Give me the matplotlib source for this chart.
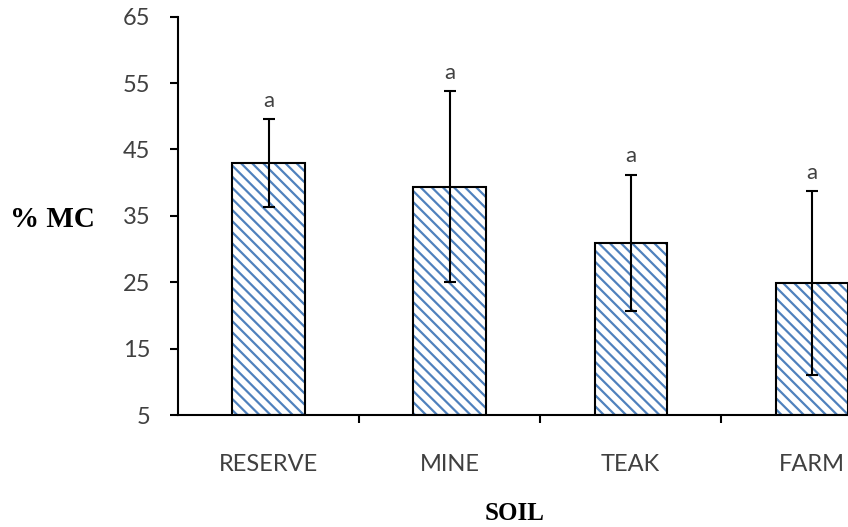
import numpy as np
import matplotlib
matplotlib.use('Agg')
import matplotlib.pyplot as plt

# data
soils = ['RESERVE', 'MINE', 'TEAK', 'FARM']
mc_mean = [43.0, 39.4, 30.9, 24.9]
mc_err = [6.6, 14.4, 10.3, 13.8]
letters = ['a', 'a', 'a', 'a']

plt.rcParams['hatch.linewidth'] = 1.6
plt.rcParams['hatch.color'] = '#4f81bd'

fig = plt.figure(figsize=(8.48, 5.27), dpi=100)
ax = fig.add_axes([0.21, 0.2125, 0.79, 0.756])

x = np.arange(len(soils))
# hatched fill, then black outline on top
ax.bar(x, np.array(mc_mean) - 5, width=0.4, bottom=5, color='white',
       edgecolor='#4f81bd', linewidth=0, hatch='\\\\\\', zorder=2)
ax.bar(x, np.array(mc_mean) - 5, width=0.4, bottom=5, fill=False,
       edgecolor='black', linewidth=1.5, zorder=3)
ax.errorbar(x, mc_mean, yerr=mc_err, fmt='none', ecolor='black',
            elinewidth=1.5, capsize=4.5, capthick=1.5, zorder=4)

for xi, m, e, t in zip(x, mc_mean, mc_err, letters):
    ax.annotate(t, (xi, m + e), xytext=(0, 6), textcoords='offset points',
                ha='center', va='bottom', fontsize=16, color='#404040',
                family='Lato')

ax.set_ylim(5, 65)
ax.set_xlim(-0.5, 3.2)
ax.set_yticks(np.arange(5, 66, 10))
ax.set_xticks(x)
ax.set_xticklabels(soils)
ax.set_xticks(x[:-1] + 0.5, minor=True)
ax.tick_params(axis='x', which='major', length=0, pad=28)
ax.tick_params(axis='x', which='minor', length=6, width=1.5, direction='out')
ax.tick_params(axis='y', length=6, width=1.5, direction='out', pad=14)
for lab in ax.get_xticklabels() + ax.get_yticklabels():
    lab.set_family('Lato')
    lab.set_fontsize(17)
    lab.set_color('#404040')

for s in ['top', 'right']:
    ax.spines[s].set_visible(False)
for s in ['left', 'bottom']:
    ax.spines[s].set_linewidth(1.5)

fig.text(0.012, 0.583, '% MC', family='Liberation Serif', fontweight='bold',
         fontsize=21, va='center', ha='left')
fig.text(0.607, 0.004, 'SOIL', family='Liberation Serif', fontweight='bold',
         fontsize=18, va='bottom', ha='center')

fig.savefig('out.png', dpi=100)
